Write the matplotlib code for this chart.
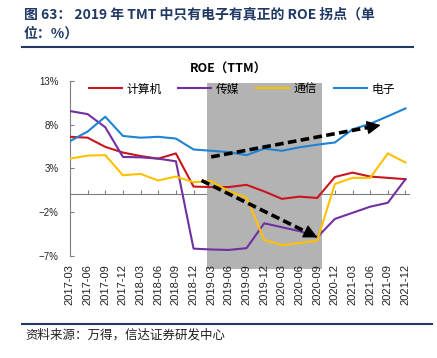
import numpy as np
import matplotlib
matplotlib.use('Agg')
import matplotlib.pyplot as plt
import matplotlib.transforms as mtransforms
from matplotlib.patches import Rectangle
from matplotlib.lines import Line2D
from matplotlib.font_manager import FontProperties

CJK = ['Noto Sans CJK SC', 'DejaVu Sans']
plt.rcParams['font.family'] = ['Liberation Sans', 'DejaVu Sans']

# Data (ROE TTM, %)
quarters = ['2017-03', '2017-06', '2017-09', '2017-12',
            '2018-03', '2018-06', '2018-09', '2018-12',
            '2019-03', '2019-06', '2019-09', '2019-12',
            '2020-03', '2020-06', '2020-09', '2020-12',
            '2021-03', '2021-06', '2021-09', '2021-12']
computer = [6.6, 6.5, 5.45, 4.8, 4.4, 4.1, 4.7, 0.9, 0.85, 0.85,
            1.1, 0.35, -0.5, -0.25, -0.4, 2.0, 2.5, 2.05, 1.9, 1.75]
media = [9.55, 9.2, 7.7, 4.3, 4.25, 4.1, 3.8, -6.2, -6.3, -6.35,
         -6.15, -3.3, -3.75, -4.2, -4.9, -2.8, -2.1, -1.4, -0.95, 1.75]
telecom = [4.1, 4.45, 4.5, 2.2, 2.35, 1.6, 2.05, 1.4, 1.55, 0.35,
           -0.35, -5.2, -5.8, -5.55, -5.3, 1.2, 1.9, 1.9, 4.7, 3.65]
electronics = [6.1, 7.2, 8.9, 6.7, 6.5, 6.6, 6.4, 5.15, 5.0, 4.85,
               4.5, 5.25, 5.0, 5.4, 5.7, 5.95, 7.45, 8.1, 8.95, 9.85]
series_names = ['计算机', '传媒', '通信', '电子']
colors = ['#C8161D', '#7030A0', '#FFC000', '#1F82D2']
yticks = [13, 8, 3, -2, -7]

# highlighted period and trend arrows (data coords)
shade_start, shade_end = 7.75, 14.26
arrow_up = ((8.0, 4.3), (17.75, 8.0))
arrow_down = ((7.45, 1.6), (14.15, -5.05))

fig = plt.figure(figsize=(4.37, 3.58), dpi=100)
ax = fig.add_axes([0.160, 0.286, 0.776, 0.488])

x = np.arange(len(quarters))
for vals, name, c in zip([computer, media, telecom, electronics], series_names, colors):
    ax.plot(x, vals, color=c, lw=1.5, label=name, zorder=3)

trans = mtransforms.blended_transform_factory(ax.transData, ax.transAxes)
ax.add_patch(Rectangle((shade_start, -0.075), shade_end - shade_start, 1.063,
                       transform=trans, facecolor='#B3B3B3', edgecolor='none',
                       zorder=1, clip_on=False))

for (x0, y0), (x1, y1) in [arrow_up, arrow_down]:
    bx, by = x1 - 0.06 * (x1 - x0), y1 - 0.06 * (y1 - y0)
    ax.plot([x0, bx], [y0, by], color='black', lw=2.6, linestyle=(0, (2.4, 1.2)), zorder=4)
    ax.annotate('', xy=(x1, y1), xytext=(bx, by),
                arrowprops=dict(arrowstyle='-|>,head_length=0.7,head_width=0.35',
                                color='black', lw=1, mutation_scale=12), zorder=5)

ax.set_xlim(0, 19.2)
ax.set_ylim(-7, 13)
for s in ['top', 'right', 'bottom']:
    ax.spines[s].set_visible(False)
ax.spines['left'].set_color('#7F7F7F')

ax.set_xticks(x)
ax.set_xticklabels(quarters, rotation=90, fontsize=8)
ax.tick_params(axis='x', length=0, pad=6, labelcolor='#222222')
ax.set_yticks(yticks)
ax.set_yticklabels([f'{v}%'.replace('-', '\u2212') for v in yticks], fontsize=7)
ax.tick_params(axis='y', direction='in', length=3, pad=8, color='#7F7F7F', labelcolor='#222222')

# zero line with category ticks
sec = ax.secondary_xaxis(0.35)
sec.set_xticks(x)
sec.tick_params(direction='in', length=3, color='#7F7F7F', labelbottom=False)
sec.spines['bottom'].set_color('#7F7F7F')

fig.legend(loc='center', bbox_to_anchor=(242 / 437, 1 - 89 / 358), ncol=4, frameon=False,
           handlelength=2.8, handletextpad=0.4, columnspacing=1.4,
           prop=FontProperties(family=CJK, size=8.5))

fig.text(228 / 437, 1 - 69 / 358, 'ROE（TTM）', ha='center', va='center',
         fontsize=9, fontweight='bold', family=CJK)

navy = '#1F3864'
fig.text(24 / 437, 1 - 14 / 358, '图 63： 2019 年 TMT 中只有电子有真正的 ROE 拐点（单',
         ha='left', va='center', fontsize=10, fontweight='bold', color=navy, family=CJK)
fig.text(24 / 437, 1 - 34 / 358, '位：%）', ha='left', va='center', fontsize=10,
         fontweight='bold', color=navy, family=CJK)
fig.add_artist(Line2D([22 / 437, 413 / 437], [1 - 47 / 358] * 2, color=navy, lw=1.5))
fig.add_artist(Line2D([22 / 437, 432 / 437], [1 - 324 / 358] * 2, color=navy, lw=1.5))
fig.text(25 / 437, 1 - 335 / 358, '资料来源：万得，信达证券研发中心', ha='left', va='center',
         fontsize=9, color='#222222', family=CJK, style='italic')

fig.savefig('out.png', dpi=100)
